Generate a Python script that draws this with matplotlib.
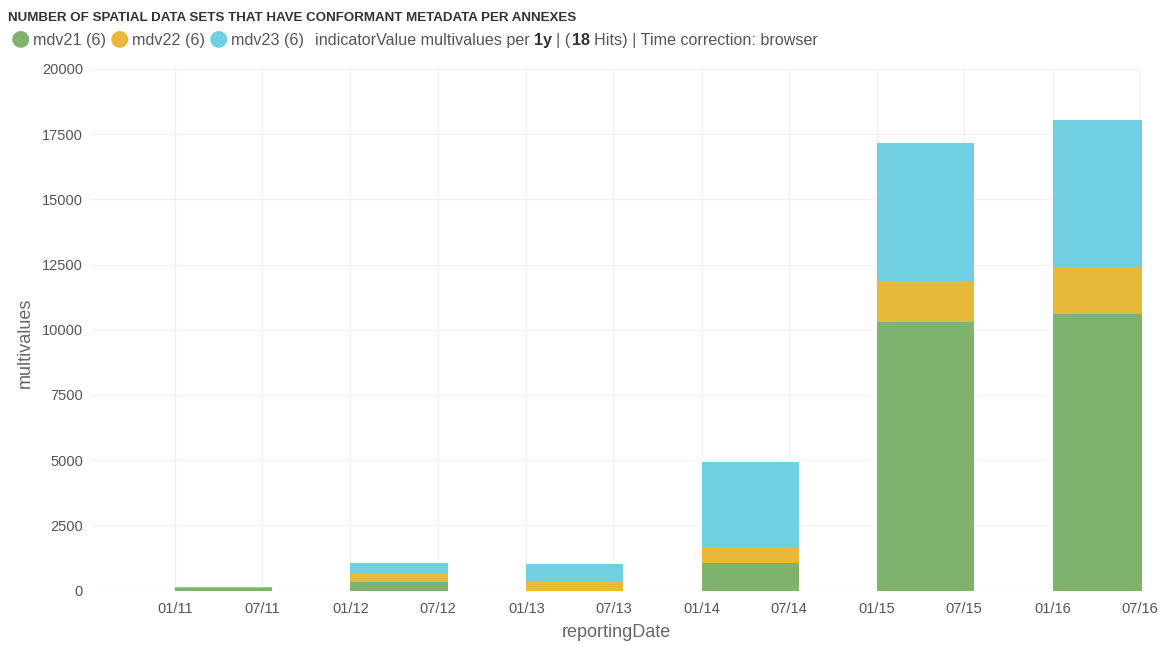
import datetime as dt
import matplotlib
matplotlib.use("Agg")
import matplotlib.pyplot as plt
import matplotlib.dates as mdates

plt.rcParams['font.family'] = ['Liberation Sans', 'DejaVu Sans']

# yearly buckets (bar starts at 1 Jan of each year)
years = [2011, 2012, 2013, 2014, 2015, 2016]
mdv21 = [80, 340, 0, 1045, 10300, 10600]
mdv22 = [25, 345, 355, 635, 1585, 1805]
mdv23 = [25, 360, 665, 3240, 5285, 5645]

series_names = ['mdv21 (6)', 'mdv22 (6)', 'mdv23 (6)']
colors = ['#7eb26d', '#eab839', '#6ed0e0']
title = 'NUMBER OF SPATIAL DATA SETS THAT HAVE CONFORMANT METADATA PER ANNEXES'

dates = [dt.datetime(y, 1, 1) for y in years]

fig = plt.figure(figsize=(11.64, 6.46), dpi=100)
ax = fig.add_axes([0.0773, 0.0859, 0.9038, 0.8073])

bottom = [0] * len(years)
for vals, c in zip([mdv21, mdv22, mdv23], colors):
    ax.bar(dates, vals, width=202, bottom=bottom, align='edge', color=c,
           linewidth=0, zorder=2)
    bottom = [b + v for b, v in zip(bottom, vals)]

ax.set_xlim(dt.datetime(2010, 7, 8), dt.datetime(2016, 7, 5))
ax.set_ylim(0, 20000)
ax.set_yticks(range(0, 20001, 2500))
ax.xaxis.set_major_locator(mdates.MonthLocator(bymonth=[1, 7]))
ax.xaxis.set_major_formatter(mdates.DateFormatter('%m/%y'))

ax.grid(True, color='#f1f1f1', linewidth=0.9, zorder=0)
ax.set_axisbelow(True)
for s in ax.spines.values():
    s.set_visible(False)
ax.tick_params(axis='both', length=0, labelsize=10.5, labelcolor='#555555')
ax.tick_params(axis='x', pad=8)
ax.tick_params(axis='y', pad=5)

ax.set_xlabel('reportingDate', fontsize=13, color='#666666', labelpad=6)
ax.set_ylabel('multivalues', fontsize=13, color='#666666')
ax.yaxis.set_label_coords(-0.053, 0.475)

# header
fig.text(0.007, 0.972, title, fontsize=9.6, fontweight='bold', color='#333333',
         va='center')

# legend line: x chained after the previous text, y fixed in the figure
y_dot = 1 - 38.5 / 646
y_txt = 1 - 45 / 646
pieces = [
    (series_names[0], '#555555', 'normal', 2),
    ('\u25cf', colors[1], 'normal', 3),
    (series_names[1], '#555555', 'normal', 2),
    ('\u25cf', colors[2], 'normal', 3),
    (series_names[2], '#555555', 'normal', 2),
    ('indicatorValue multivalues per', '#555555', 'normal', 8),
    ('1y', '#333333', 'bold', 3),
    ('| (', '#555555', 'normal', 3),
    ('18', '#333333', 'bold', 1),
    ('Hits) | Time correction: browser', '#555555', 'normal', 3),
]
last = fig.text(0.009, y_dot, '\u25cf', color=colors[0], fontsize=16,
                family='DejaVu Sans', va='center')
for txt, col, wt, gap in pieces:
    if txt == '\u25cf':
        kw = dict(family='DejaVu Sans', fontsize=16, va='center')
        yy = y_dot
    else:
        kw = dict(fontsize=11.6, va='baseline')
        yy = y_txt
    last = fig.add_artist(plt.Annotation(txt, xy=(1, yy),
                                         xycoords=(last, 'figure fraction'),
                                         xytext=(gap, 0), textcoords='offset points',
                                         ha='left', color=col, fontweight=wt, **kw))

fig.savefig('out.png', dpi=100, facecolor='white')
